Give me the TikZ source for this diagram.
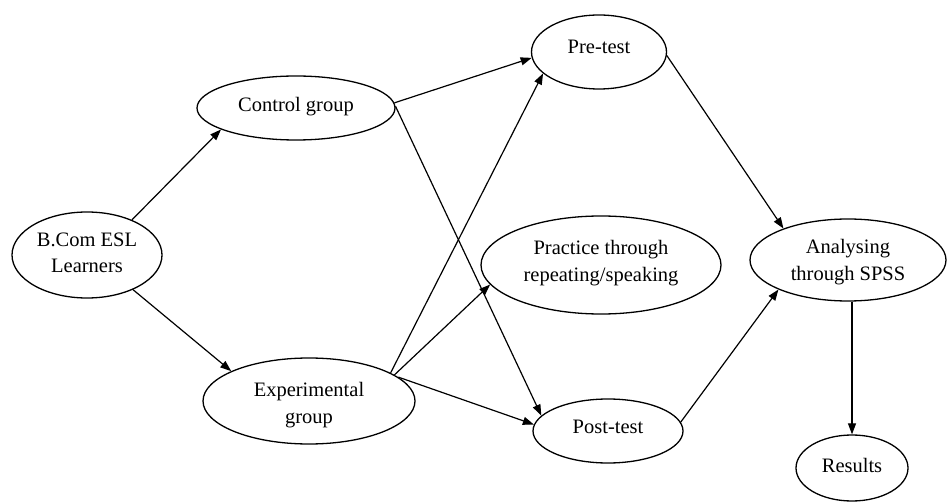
\documentclass[tikz,border=0pt]{standalone}
\usepackage{fontspec}
\setmainfont{Liberation Serif}
\usetikzlibrary{shapes.geometric,arrows.meta}
\begin{document}
\begin{tikzpicture}[x=1pt,y=-1pt,
  ell/.style 2 args={ellipse, draw, line width=1.3pt, minimum width=#1pt, minimum height=#2pt, inner sep=0pt},
  txt/.style={font=\fontsize{20.5}{26.5}\selectfont, align=center, inner sep=0pt},
  arr/.style={line width=1.2pt, -{Triangle[length=11pt,width=8pt]}}]
\useasboundingbox (0,0) rectangle (947,502);
% ellipses
\node[ell={150}{86}] (bcom) at (87,255) {};
\node[ell={198}{64}] (ctrl) at (296,108) {};
\node[ell={212}{86}] (exp) at (309,401) {};
\node[ell={135}{74}] (pre) at (599,52) {};
\node[ell={240}{98}] (prac) at (601,265) {};
\node[ell={150}{64}] (post) at (608,431) {};
\node[ell={196}{82}] (ana) at (848,260) {};
\node[ell={112}{66}] (res) at (852,468) {};
% texts
\node[txt] (bcomt) at (87,253) {B.Com ESL\\Learners};
\node[txt] (ctrlt) at (296,107) {Control group};
\node[txt] (expt) at (309,405) {Experimental\\group};
\node[txt] (pret) at (599,47) {Pre-test};
\node[txt] (pract) at (601,263) {Practice through\\repeating/speaking};
\node[txt] (postt) at (608,427) {Post-test};
\node[txt] (anat) at (848,262) {Analysing\\through SPSS};
\node[txt] (rest) at (852,465) {Results};
% connectors
\draw[arr] (bcom.38) -- (ctrl.196);
\draw[arr] (bcom.-37) -- (exp.159);
\draw[arr] (ctrl.3) -- (pre.185);
\draw[arr] (ctrl.1) -- (post.167);
\draw[arr] (exp.19) -- (pre.201);
\draw[arr] (exp.17) -- (prac.190);
\draw[arr] (exp.15) -- (post.175);
\draw[arr] (pre.-3) -- (ana.154);
\draw[arr] (post.7) -- (ana.203);
\draw[arr] (ana.south -| res.north) -- (res.north);
\end{tikzpicture}
\end{document}
